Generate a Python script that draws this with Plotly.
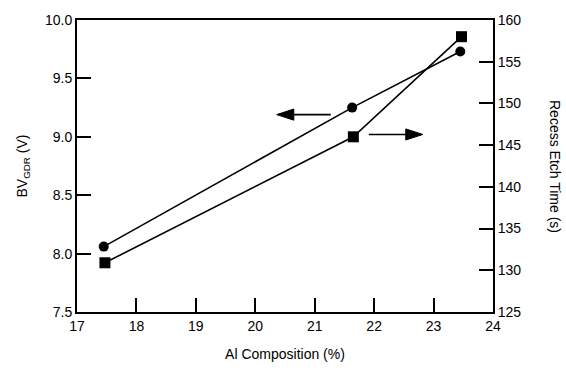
import plotly.graph_objects as go

al_comp = [17.45, 21.63, 23.45]
bv_gdr = [8.06, 9.25, 9.73]
etch_comp = [17.47, 21.65, 23.47]
etch_time = [130.9, 146.0, 158.0]
x_ticks = [17, 18, 19, 20, 21, 22, 23, 24]
left_ticks = [7.5, 8.0, 8.5, 9.0, 9.5, 10.0]
right_ticks = [125, 130, 135, 140, 145, 150, 155, 160]

# direction arrows (data coords on left axis): tail -> head
arrow_left_x = [21.27, 20.36]
arrow_left_y = [9.19, 9.19]
arrow_right_x = [21.91, 22.82]
arrow_right_y = [9.02, 9.02]

FONT = "Liberation Sans, Arial, sans-serif"

fig = go.Figure()
fig.add_trace(go.Scatter(x=al_comp, y=bv_gdr, mode="lines+markers",
                         line=dict(color="black", width=1.6),
                         marker=dict(symbol="circle", size=10, color="black"),
                         showlegend=False))
fig.add_trace(go.Scatter(x=etch_comp, y=etch_time, mode="lines+markers", yaxis="y2",
                         line=dict(color="black", width=1.6),
                         marker=dict(symbol="square", size=11, color="black"),
                         showlegend=False))
for ax_, ay_ in [(arrow_left_x, arrow_left_y), (arrow_right_x, arrow_right_y)]:
    fig.add_trace(go.Scatter(x=ax_, y=ay_, mode="lines+markers",
                             line=dict(color="black", width=1.6),
                             marker=dict(symbol=["circle", "arrow"], size=[0, 18],
                                         angleref="previous", color="black",
                                         opacity=1, line=dict(width=1, color="black")),
                             showlegend=False, hoverinfo="skip"))

axis_common = dict(showgrid=False, zeroline=False, showline=True, linecolor="black",
                   linewidth=2, ticks="inside", ticklen=14, tickwidth=2, tickcolor="black",
                   tickfont=dict(family=FONT, size=14, color="black"))

fig.update_layout(
    width=566, height=377,
    margin=dict(l=77, r=73, t=13, b=65),
    paper_bgcolor="white", plot_bgcolor="white",
    font=dict(family=FONT, color="black"),
    xaxis=dict(range=[17, 24], tickvals=x_ticks, ticktext=[str(v) for v in x_ticks],
               mirror=True, **axis_common,
               title=dict(text="Al Composition (%)", font=dict(family=FONT, size=14), standoff=16)),
    yaxis=dict(range=[7.5, 10.0], tickvals=left_ticks, ticktext=[f"{v:.1f}" for v in left_ticks],
               **axis_common,
               title=dict(text="BV<sub>GDR</sub> (V)", font=dict(family=FONT, size=14), standoff=14)),
    yaxis2=dict(range=[125, 160], tickvals=right_ticks, ticktext=[str(v) for v in right_ticks],
                overlaying="y", side="right", **axis_common),
)

fig.add_annotation(x=1.0, xref="paper", xanchor="center", xshift=62, y=0.5, yref="paper",
                   yanchor="middle",
                   text="Recess Etch Time (s)", textangle=90, showarrow=False,
                   font=dict(family=FONT, size=14, color="black"))

fig.write_html("out.html")
